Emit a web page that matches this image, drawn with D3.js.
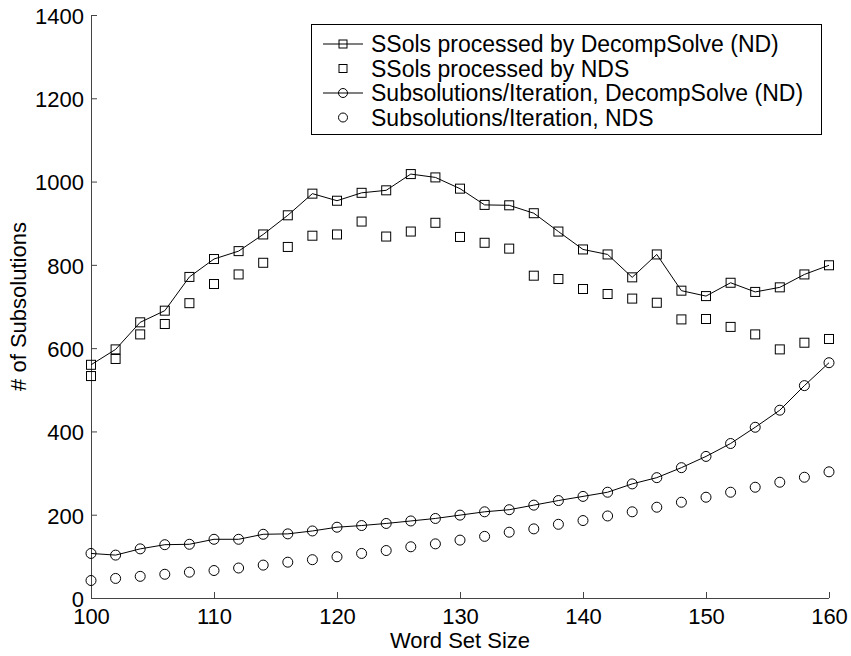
<!DOCTYPE html>
<html>
<head>
<meta charset="utf-8">
<script src="https://cdn.jsdelivr.net/npm/d3@7"></script>
<style>
  body { margin: 0; background: #fff; }
  svg text { font-family: "Liberation Sans", Arial, sans-serif; fill: #000; }
</style>
</head>
<body>
<div id="chart"></div>
<script>
// word set sizes
var sizes = [100, 102, 104, 106, 108, 110, 112, 114, 116, 118, 120, 122, 124, 126, 128, 130,
             132, 134, 136, 138, 140, 142, 144, 146, 148, 150, 152, 154, 156, 158, 160];

// SSols processed by DecompSolve (ND)
var ssolsDecomp = [560, 597, 662, 690, 771, 814, 833, 873, 919, 971, 954, 973, 979, 1018, 1010, 983,
                   944, 943, 924, 880, 837, 825, 770, 825, 738, 725, 757, 735, 746, 777, 799];

// SSols processed by NDS
var ssolsNDS = [533, 574, 633, 658, 708, 754, 777, 805, 843, 870, 873, 904, 868, 880, 901, 867,
                853, 839, 774, 766, 742, 730, 719, 709, 669, 670, 651, 633, 597, 613, 622];

// Subsolutions/Iteration, DecompSolve (ND)
var subsDecomp = [107, 103, 118, 128, 129, 141, 141, 153, 154, 161, 170, 174, 179, 185, 191, 199,
                  207, 212, 223, 234, 244, 254, 274, 289, 313, 340, 371, 410, 451, 510, 565];

// Subsolutions/Iteration, NDS
var subsNDS = [42, 47, 52, 57, 62, 66, 72, 79, 86, 92, 99, 107, 114, 123, 130, 139,
               148, 158, 166, 177, 186, 197, 207, 218, 230, 242, 254, 266, 278, 290, 303];

var xTicks = [100, 110, 120, 130, 140, 150, 160];
var yTicks = [0, 200, 400, 600, 800, 1000, 1200, 1400];

var legendLabels = ["SSols processed by DecompSolve (ND)", "SSols processed by NDS",
                    "Subsolutions/Iteration, DecompSolve (ND)", "Subsolutions/Iteration, NDS"];

function init() {
    var w = 851;
    var h = 656;
    var left = 91, right = 829, top = 15, bottom = 598;
    var fs = "22px";

    var svg = d3.select("#chart")
                .append("svg")
                .attr("width", w)
                .attr("height", h);

    var x = d3.scaleLinear().domain([100, 160]).range([left, right]);
    var y = d3.scaleLinear().domain([0, 1400]).range([bottom, top]);

    // axes, ticks inward
    var xAxis = svg.append("g")
        .attr("transform", "translate(0," + bottom + ")")
        .call(d3.axisTop(x).tickValues(xTicks).tickSize(6).tickFormat(d3.format("d")));
    xAxis.selectAll("text").attr("y", 26).attr("dy", 0).style("font-size", fs);

    var yAxis = svg.append("g")
        .attr("transform", "translate(" + left + ",0)")
        .call(d3.axisRight(y).tickValues(yTicks).tickSize(6).tickFormat(d3.format("d")));
    yAxis.selectAll("text").attr("x", -7).attr("dy", "0.38em")
        .attr("text-anchor", "end").style("font-size", fs);

    svg.selectAll(".domain").attr("stroke", "#444");
    xAxis.select(".domain").attr("d", "M" + left + ",0.5H" + right);
    yAxis.select(".domain").attr("d", "M0.5," + top + "V" + bottom);
    svg.selectAll(".tick line").attr("stroke", "#444");

    var line = d3.line()
        .x(function(d) { return x(d[0]); })
        .y(function(d) { return y(d[1]); });

    var ssA = d3.zip(sizes, ssolsDecomp);
    var ssB = d3.zip(sizes, ssolsNDS);
    var sbA = d3.zip(sizes, subsDecomp);
    var sbB = d3.zip(sizes, subsNDS);

    svg.append("path").datum(ssA).attr("d", line)
        .attr("fill", "none").attr("stroke", "#000").attr("stroke-width", 1);
    svg.append("path").datum(sbA).attr("d", line)
        .attr("fill", "none").attr("stroke", "#000").attr("stroke-width", 1);

    function squares(data) {
        svg.append("g").selectAll("rect")
            .data(data)
            .enter()
            .append("rect")
            .attr("x", function(d) { return x(d[0]) - 4.5; })
            .attr("y", function(d) { return y(d[1]) - 4.5; })
            .attr("width", 9)
            .attr("height", 9)
            .attr("fill", "none")
            .attr("stroke", "#000");
    }
    function circles(data) {
        svg.append("g").selectAll("circle")
            .data(data)
            .enter()
            .append("circle")
            .attr("cx", function(d) { return x(d[0]); })
            .attr("cy", function(d) { return y(d[1]); })
            .attr("r", 5)
            .attr("fill", "none")
            .attr("stroke", "#000");
    }
    squares(ssA);
    squares(ssB);
    circles(sbA);
    circles(sbB);

    // axis titles
    svg.append("text")
        .attr("x", (left + right) / 2)
        .attr("y", 648)
        .attr("text-anchor", "middle")
        .style("font-size", fs)
        .text("Word Set Size");

    svg.append("text")
        .attr("transform", "translate(26," + (top + bottom) / 2 + ") rotate(-90)")
        .attr("text-anchor", "middle")
        .style("font-size", fs)
        .text("# of Subsolutions");

    // legend
    var lg = svg.append("g");
    lg.append("rect")
        .attr("x", 311.5).attr("y", 24.5)
        .attr("width", 510).attr("height", 110)
        .attr("fill", "#fff").attr("stroke", "#000");

    legendLabels.forEach(function(label, i) {
        var ly = 44 + i * 24.5;
        if (i % 2 == 0) {
            lg.append("line")
                .attr("x1", 323).attr("x2", 363)
                .attr("y1", ly).attr("y2", ly)
                .attr("stroke", "#000");
        }
        if (i < 2) {
            lg.append("rect")
                .attr("x", 343 - 4).attr("y", ly - 4)
                .attr("width", 8).attr("height", 8)
                .attr("fill", "none").attr("stroke", "#000");
        } else {
            lg.append("circle")
                .attr("cx", 343).attr("cy", ly).attr("r", 4.5)
                .attr("fill", "none").attr("stroke", "#000");
        }
        lg.append("text")
            .attr("x", 371)
            .attr("y", ly + 8)
            .style("font-size", "23px")
            .text(label);
    });
}

window.onload = init;
</script>
</body>
</html>
